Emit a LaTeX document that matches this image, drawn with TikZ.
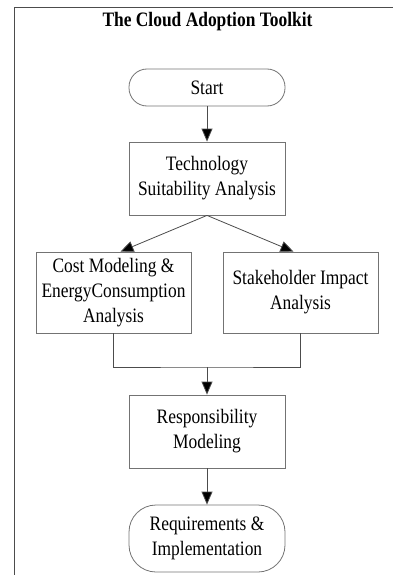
\documentclass[tikz,border=0pt]{standalone}
\usepackage{fontspec}
\setmainfont{Liberation Serif}[FakeStretch=0.85]
\usetikzlibrary{arrows.meta}
\begin{document}
\begin{tikzpicture}[x=1pt,y=-1pt,
  txt/.style={font=\fontsize{20.5}{25}\selectfont, align=center},
  box/.style={txt, draw=black!55, line width=0.8pt, minimum width=156pt, inner sep=0pt},
  term/.style={box, rounded corners=18pt},
  conn/.style={draw=black!70, line width=0.8pt},
  arr/.style={conn, -{Triangle[width=11pt,length=13pt,fill=black]}}]
\useasboundingbox (0,0) rectangle (393,575);
\draw[black!70, line width=1pt] (14,575) -- (14,8) -- (393,8);
\node[txt, font=\fontsize{20.5}{25}\selectfont\bfseries] (title) at (207.5,22) {The Cloud Adoption Toolkit};
\node[term, minimum height=37pt] (start) at (207,87.5) {Start};
\node[box, minimum height=73pt] (tech) at (207,178.5) {Technology\\Suitability Analysis};
\node[box, minimum width=155pt, minimum height=81pt] (cost) at (113.5,292.5) {Cost Modeling \&\\EnergyConsumption\\Analysis};
\node[box, minimum width=155pt, minimum height=81pt] (stake) at (300.5,292.5) {Stakeholder Impact\\Analysis};
\node[box, minimum height=73pt] (resp) at (207,431.5) {Responsibility\\Modeling};
\node[term, rounded corners=27pt, minimum height=67pt] (req) at (207,538.5) {Requirements \&\\Implementation};
\coordinate (m) at (207,367);
\draw[arr] (start) -- (tech);
\draw[arr] (tech.south) -- ([xshift=7pt]cost.north);
\draw[arr] (tech.south) -- ([xshift=-7pt]stake.north);
\draw[conn] (cost.south) |- (m) -| (stake.south);
\draw[arr] (m) -- (resp.north);
\draw[arr] (resp) -- (req);
\end{tikzpicture}
\end{document}
